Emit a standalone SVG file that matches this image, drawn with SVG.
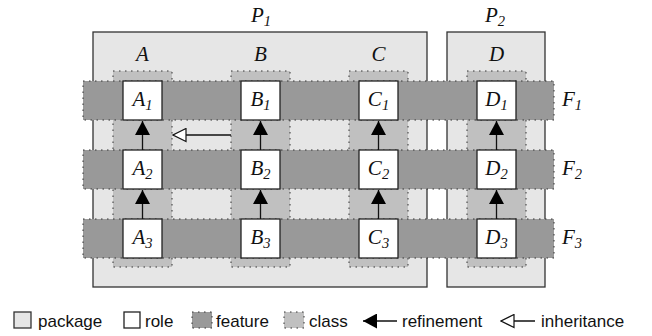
<svg xmlns="http://www.w3.org/2000/svg" width="652" height="336" viewBox="0 0 652 336">
<defs>
<style>
.pkg{fill:#e6e6e6;stroke:#333;stroke-width:1.3}
.cls{fill:#c0c0c0;stroke:#333;stroke-width:1;stroke-dasharray:1.5 4.5}
.feat{fill:#999;stroke:#333;stroke-width:1;stroke-dasharray:1.5 4.5}
.role{fill:#fff;stroke:#222;stroke-width:1.3}
.lbl{font-family:"Liberation Serif",serif;font-style:italic;font-size:21px;fill:#111;text-anchor:middle}
.rl{font-family:"Liberation Serif",serif;font-style:italic;font-size:21px;fill:#111}
.sub{font-size:14.5px;font-style:italic}
.leg{font-family:"Liberation Sans",Arial,sans-serif;font-size:17px;fill:#111}
.ln{stroke:#111;stroke-width:1.3;fill:none}
</style>
<marker id="ref" viewBox="0 0 14 15" refX="14" refY="7.5" markerWidth="14" markerHeight="15" markerUnits="userSpaceOnUse" orient="auto">
<path d="M0,0 L14,7.5 L0,15 Z" fill="#000"/>
</marker>
<marker id="inh" viewBox="0 0 15 15" refX="14" refY="7.5" markerWidth="15" markerHeight="15" markerUnits="userSpaceOnUse" orient="auto">
<path d="M1,1 L14,7.5 L1,14 Z" fill="#fff" stroke="#111" stroke-width="1.2"/>
</marker>
</defs>
<rect width="652" height="336" fill="#fff"/>
<g id="packages">
<g id="P1"><rect class="pkg" x="93" y="32" width="334" height="255"/><text class="lbl" x="261" y="22">P<tspan class="sub" dy="4">1</tspan></text></g>
<g id="P2"><rect class="pkg" x="447" y="32" width="98" height="255"/><text class="lbl" x="495" y="22">P<tspan class="sub" dy="4">2</tspan></text></g>
</g>
<g id="classes">
<g id="A"><rect class="cls" x="113" y="71" width="59" height="196"/><text class="lbl" x="142.5" y="61">A</text></g>
<g id="B"><rect class="cls" x="231" y="71" width="59" height="196"/><text class="lbl" x="260.5" y="61">B</text></g>
<g id="C"><rect class="cls" x="349" y="71" width="59" height="196"/><text class="lbl" x="378.5" y="61">C</text></g>
<g id="D"><rect class="cls" x="467" y="71" width="59" height="196"/><text class="lbl" x="496.5" y="61">D</text></g>
</g>
<g id="features">
<g id="F1"><rect class="feat" x="83" y="81" width="471" height="39"/><text class="rl" x="562" y="106">F<tspan class="sub" dy="4">1</tspan></text></g>
<g id="F2"><rect class="feat" x="83" y="150" width="471" height="39"/><text class="rl" x="562" y="175">F<tspan class="sub" dy="4">2</tspan></text></g>
<g id="F3"><rect class="feat" x="83" y="219" width="471" height="39"/><text class="rl" x="562" y="244">F<tspan class="sub" dy="4">3</tspan></text></g>
</g>
<g id="roles">
<g id="A1"><rect class="role" x="123" y="81" width="39" height="39"/><text class="lbl" x="142.5" y="106">A<tspan class="sub" dy="4">1</tspan></text></g>
<g id="B1"><rect class="role" x="241" y="81" width="39" height="39"/><text class="lbl" x="260.5" y="106">B<tspan class="sub" dy="4">1</tspan></text></g>
<g id="C1"><rect class="role" x="359" y="81" width="39" height="39"/><text class="lbl" x="378.5" y="106">C<tspan class="sub" dy="4">1</tspan></text></g>
<g id="D1"><rect class="role" x="477" y="81" width="39" height="39"/><text class="lbl" x="496.5" y="106">D<tspan class="sub" dy="4">1</tspan></text></g>
<g id="A2"><rect class="role" x="123" y="150" width="39" height="39"/><text class="lbl" x="142.5" y="175">A<tspan class="sub" dy="4">2</tspan></text></g>
<g id="B2"><rect class="role" x="241" y="150" width="39" height="39"/><text class="lbl" x="260.5" y="175">B<tspan class="sub" dy="4">2</tspan></text></g>
<g id="C2"><rect class="role" x="359" y="150" width="39" height="39"/><text class="lbl" x="378.5" y="175">C<tspan class="sub" dy="4">2</tspan></text></g>
<g id="D2"><rect class="role" x="477" y="150" width="39" height="39"/><text class="lbl" x="496.5" y="175">D<tspan class="sub" dy="4">2</tspan></text></g>
<g id="A3"><rect class="role" x="123" y="219" width="39" height="39"/><text class="lbl" x="142.5" y="244">A<tspan class="sub" dy="4">3</tspan></text></g>
<g id="B3"><rect class="role" x="241" y="219" width="39" height="39"/><text class="lbl" x="260.5" y="244">B<tspan class="sub" dy="4">3</tspan></text></g>
<g id="C3"><rect class="role" x="359" y="219" width="39" height="39"/><text class="lbl" x="378.5" y="244">C<tspan class="sub" dy="4">3</tspan></text></g>
<g id="D3"><rect class="role" x="477" y="219" width="39" height="39"/><text class="lbl" x="496.5" y="244">D<tspan class="sub" dy="4">3</tspan></text></g>
</g>
<g id="connectors">
<line class="ln" x1="142.5" y1="150" x2="142.5" y2="121" marker-end="url(#ref)"/>
<line class="ln" x1="260.5" y1="150" x2="260.5" y2="121" marker-end="url(#ref)"/>
<line class="ln" x1="378.5" y1="150" x2="378.5" y2="121" marker-end="url(#ref)"/>
<line class="ln" x1="496.5" y1="150" x2="496.5" y2="121" marker-end="url(#ref)"/>
<line class="ln" x1="142.5" y1="219" x2="142.5" y2="190" marker-end="url(#ref)"/>
<line class="ln" x1="260.5" y1="219" x2="260.5" y2="190" marker-end="url(#ref)"/>
<line class="ln" x1="378.5" y1="219" x2="378.5" y2="190" marker-end="url(#ref)"/>
<line class="ln" x1="496.5" y1="219" x2="496.5" y2="190" marker-end="url(#ref)"/>
<line class="ln" x1="231" y1="135" x2="173" y2="135" marker-end="url(#inh)"/>
</g>
<g id="legend">
<rect class="pkg" x="14" y="312" width="17" height="16"/><text class="leg" x="38" y="327">package</text>
<rect class="role" x="124" y="312" width="16" height="16"/><text class="leg" x="145" y="327">role</text>
<rect class="feat" x="192" y="312" width="20" height="16"/><text class="leg" x="216" y="327">feature</text>
<rect class="cls" x="284" y="312" width="20" height="16"/><text class="leg" x="309" y="327">class</text>
<line class="ln" x1="397" y1="321" x2="363" y2="321" marker-end="url(#ref)"/><text class="leg" x="402" y="327">refinement</text>
<line class="ln" x1="535" y1="321" x2="501" y2="321" marker-end="url(#inh)"/><text class="leg" x="541" y="327">inheritance</text>
</g>
</svg>
